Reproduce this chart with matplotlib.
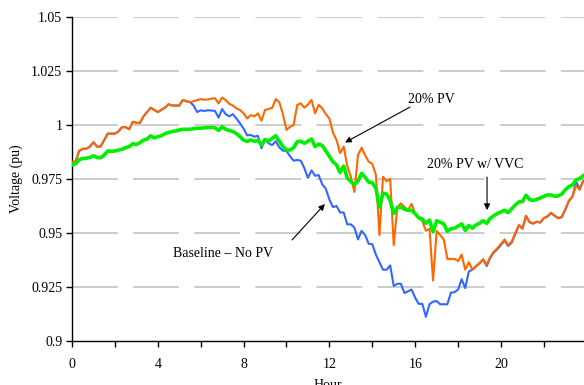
import matplotlib
matplotlib.use("Agg")
import matplotlib.pyplot as plt

plt.rcParams['font.family'] = ['Liberation Serif', 'DejaVu Serif']
plt.rcParams['lines.scale_dashes'] = False

# 10-minute time steps (hours)
hours = [i / 6 for i in range(144)]

pv20 = [0.983, 0.983, 0.988, 0.989, 0.989, 0.990, 0.992, 0.990, 0.990, 0.993,
        0.996, 0.996, 0.996, 0.997, 0.999, 0.999, 0.998, 1.0015, 1.001, 1.001,
        1.004, 1.006, 1.008, 1.007, 1.006, 1.007, 1.008, 1.0096, 1.009, 1.009,
        1.009, 1.0116, 1.011, 1.0106, 1.011, 1.0115, 1.012, 1.0117, 1.0118, 1.0122,
        1.0124, 1.010, 1.0127, 1.0115, 1.0098, 1.009, 1.0077, 1.0069, 1.0054, 1.003,
        1.0046, 1.004, 1.0054, 1.002, 1.007, 1.0074, 1.008, 1.012, 1.0105, 1.005,
        0.9977, 0.9992, 1.000, 1.0093, 1.010, 1.008, 1.0095, 1.0116, 1.0054, 1.0093,
        1.0077, 1.005, 1.003, 0.9965, 0.993, 0.987, 0.990, 0.981, 0.976, 0.969,
        0.986, 0.9895, 0.986, 0.983, 0.982, 0.977, 0.949, 0.976, 0.974, 0.975,
        0.9444, 0.962, 0.9637, 0.962, 0.9606, 0.9635, 0.959, 0.957, 0.9555, 0.951,
        0.952, 0.928, 0.951, 0.949, 0.947, 0.938, 0.938, 0.938, 0.937, 0.940,
        0.933, 0.9365, 0.933, 0.9347, 0.936, 0.9378, 0.9352, 0.939, 0.9414, 0.943,
        0.945, 0.947, 0.9444, 0.946, 0.950, 0.9537, 0.952, 0.958, 0.955, 0.9545,
        0.9553, 0.955, 0.957, 0.9578, 0.9594, 0.958, 0.957, 0.9575, 0.961, 0.965,
        0.967, 0.972, 0.970, 0.974]

baseline = pv20[:34] + [
        1.009, 1.006, 1.0068, 1.0065, 1.0068, 1.0067, 1.0065, 1.0034, 1.0074, 1.005, 1.004,
        1.005, 1.003, 1.0008, 0.9983, 0.9952, 0.9954, 0.9946, 0.995, 0.9892, 0.9935,
        0.9915, 0.9907, 0.9925, 0.9896, 0.9881, 0.988, 0.9855, 0.9835, 0.9838, 0.9835,
        0.980, 0.9755, 0.979, 0.9765, 0.9768, 0.9725, 0.9705, 0.9655, 0.962, 0.9625,
        0.9595, 0.9595, 0.954, 0.954, 0.9525, 0.947, 0.951, 0.949, 0.945, 0.9448,
        0.940, 0.9365, 0.933, 0.933, 0.935, 0.9255, 0.9265, 0.9265, 0.9222, 0.923,
        0.9238, 0.920, 0.9172, 0.9172, 0.9112, 0.917, 0.9182, 0.9185, 0.917, 0.917,
        0.917, 0.9224, 0.9226, 0.9238, 0.9286, 0.9245, 0.9322, 0.933, 0.9345, 0.936,
        0.9378, 0.9347, 0.9385, 0.941, 0.9425, 0.9445, 0.9465, 0.944, 0.9455, 0.9495,
        0.9535, 0.952, 0.9578, 0.955, 0.9543, 0.9552, 0.9548, 0.9568, 0.9576, 0.9592,
        0.958, 0.9568, 0.9573, 0.9608, 0.9648, 0.9668, 0.9737, 0.9705, 0.9742]

pv20_vvc = [0.9815, 0.982, 0.984, 0.9845, 0.9846, 0.985, 0.9857, 0.985, 0.9848, 0.986,
        0.988, 0.9878, 0.988, 0.9884, 0.9887, 0.9895, 0.990, 0.9913, 0.991, 0.9918,
        0.993, 0.9935, 0.995, 0.994, 0.9946, 0.995, 0.996, 0.9965, 0.997, 0.9972,
        0.9977, 0.998, 0.998, 0.998, 0.9983, 0.9985, 0.9985, 0.9987, 0.9988, 0.9989,
        0.9987, 0.9975, 0.9992, 0.998, 0.9975, 0.997, 0.996, 0.9946, 0.993, 0.9924,
        0.993, 0.9925, 0.9928, 0.9907, 0.9933, 0.9926, 0.9938, 0.995, 0.9925, 0.990,
        0.9884, 0.9884, 0.9895, 0.9923, 0.9925, 0.9915, 0.9925, 0.9935, 0.990, 0.9912,
        0.9905, 0.988, 0.9855, 0.983, 0.9815, 0.978, 0.981, 0.9755, 0.9738, 0.9725,
        0.974, 0.9776, 0.9758, 0.9735, 0.9733, 0.9707, 0.962, 0.9685, 0.968, 0.965,
        0.959, 0.9618, 0.962, 0.961, 0.9605, 0.9605, 0.959, 0.957, 0.9565, 0.9545,
        0.956, 0.9505, 0.9557, 0.955, 0.9542, 0.9508, 0.952, 0.9522, 0.9532, 0.9542,
        0.9512, 0.9535, 0.9522, 0.9537, 0.9545, 0.9557, 0.9545, 0.9568, 0.958, 0.959,
        0.9598, 0.9605, 0.9594, 0.9612, 0.963, 0.9644, 0.9645, 0.9675, 0.9655, 0.965,
        0.9656, 0.9662, 0.967, 0.9676, 0.9676, 0.967, 0.9672, 0.968, 0.970, 0.9715,
        0.9722, 0.9746, 0.9752, 0.9765]

yticks = [0.9, 0.925, 0.95, 0.975, 1.0, 1.025, 1.05]
ytick_labels = ['0.9', '0.925', '0.95', '0.975', '1', '1.025', '1.05']
xticks = [0, 4, 8, 12, 16, 20]
xminor = [2, 6, 10, 14, 18, 22]

fig = plt.figure(figsize=(5.84, 3.85), dpi=100)
ax = fig.add_axes([72/584, 44/385, 512/584, 324/385])

ax.plot(hours, baseline, color='#3366FF', lw=1.5, zorder=3)
ax.plot(hours, pv20, color='#FF6600', lw=1.5, zorder=4)
ax.plot(hours, pv20_vvc, color='#00EE00', lw=2.6, zorder=5)

ax.set_xlim(0, 23.87)
ax.set_ylim(0.9, 1.05)
ax.set_yticks(yticks)
ax.set_yticklabels(ytick_labels)
ax.set_xticks(xticks)
ax.set_xticks(xminor, minor=True)
ax.tick_params(axis='both', which='both', direction='out', length=4, width=1,
               labelsize=10)
ax.tick_params(axis='x', pad=8)
ax.tick_params(axis='y', pad=3)

for y in yticks[1:]:
    ax.axhline(y, color='#C8C8C8', lw=1.3, dashes=(33, 11), zorder=1)

ax.spines['top'].set_visible(False)
ax.spines['right'].set_visible(False)
ax.spines['left'].set_linewidth(1)
ax.spines['bottom'].set_linewidth(1)

ax.set_ylabel('Voltage (pu)', fontsize=10, labelpad=6)
ax.set_xlabel('Hour', fontsize=10, labelpad=6)

arrow = dict(arrowstyle='-|>', color='black', lw=0.8, mutation_scale=9,
             shrinkA=0, shrinkB=0)
ax.text(15.66, 1.0116, '20% PV', fontsize=10, ha='left', va='center')
ax.annotate('', xy=(12.73, 0.9919), xytext=(15.76, 1.0083), arrowprops=arrow)
ax.text(16.55, 0.9815, '20% PV w/ VVC', fontsize=10, ha='left', va='center')
ax.annotate('', xy=(19.35, 0.9606), xytext=(19.35, 0.9759), arrowprops=arrow)
ax.text(4.71, 0.9407, 'Baseline \u2013 No PV', fontsize=10, ha='left', va='center')
ax.annotate('', xy=(11.79, 0.9634), xytext=(10.26, 0.9468), arrowprops=arrow)

fig.savefig('out.png', dpi=100)
